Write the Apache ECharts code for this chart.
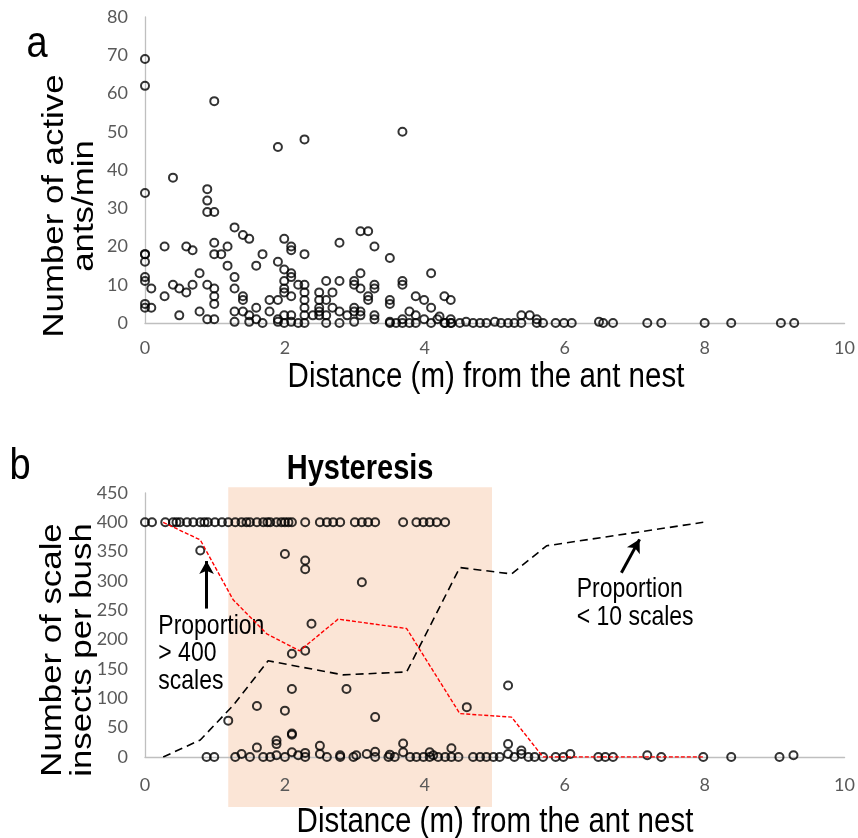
<!DOCTYPE html>
<html><head>
<meta charset="utf-8">
<title>Ants and scale insects</title>
<script src="https://cdn.jsdelivr.net/npm/echarts@6/dist/echarts.min.js"></script>
</head>
<body style="margin:0;background:#fff;">
<div id="main" style="width:858px;height:838px;"></div>
<script>
// panel a: active ants per minute vs distance
var antX = [0,0,0.99,3.68,2.28,1.90,0.40,0,0.89,0.89,0.89,0.99,1.28,1.40,1.49,1.99,0.99,3.08,3.19,2.78,3.28,
  0,0,0.28,0.59,0.68,1.18,0.99,1.09,1.68,2.09,2.09,2.28,3.50,0,1.18,1.59,1.90,1.99,2.09,2.09,0.78,3.08,4.09,
  0,0,1.28,1.99,2.59,2.78,2.99,3.68,0.09,0.40,0.49,0.59,0.68,0.89,0.99,1.28,1.99,1.99,2.19,2.28,2.28,2.49,2.68,
  2.99,3.08,3.28,3.28,3.68,0.28,0.99,0.99,1.40,1.40,1.78,1.90,2.09,2.28,2.49,2.59,3.19,3.19,3.50,3.50,3.87,3.99,
  4.28,4.37,0,0,0.09,0.78,0.49,0.89,0.99,1.28,1.28,1.40,1.49,1.49,1.59,1.59,1.68,1.78,1.90,1.90,1.99,1.99,2.09,
  2.09,2.19,2.28,2.28,2.28,2.40,2.49,2.49,2.49,2.59,2.59,2.68,2.78,2.78,2.89,2.99,2.99,2.99,3.08,3.08,3.28,3.28,
  3.50,3.50,3.59,3.68,3.68,3.78,3.78,3.87,3.87,3.99,4.09,4.09,4.18,4.28,4.37,4.37,4.21,4.29,4.38,4.50,4.59,4.69,
  4.79,4.88,5.00,5.09,5.19,5.28,5.38,5.38,5.50,5.60,5.60,5.69,5.87,5.99,6.10,6.49,6.55,6.69,7.18,7.38,8.00,8.38,
  9.09,9.28];
var antY = [69,62,58,50,48,46,38,34,35,32,29,29,25,23,22,22,21,24,24,21,20,
  18,18,20,20,19,20,18,18,18,20,19,18,17,16,15,15,16,14,13,12,13,13,13,
  12,11,12,11,11,11,11,11,9,10,9,8,10,10,9,9,9,8,10,10,8,8,8,
  10,9,10,9,10,7,7,5,7,6,6,6,7,6,6,6,7,6,6,5,7,6,
  7,6,5,4,4,3,2,1,1,3,0.3,3,2,0.3,4,1,0,3,1,0.3,2,0,2,
  0.3,0,4,2,0,2,4,3,2,2,0,4,3,0,2,4,3,0.3,3,2,2,1,
  0.3,0,0,1,0,3,0,2,0,1,4,0,1,0,1,0,1.7,0,0,0,0.3,0,
  0,0,0.3,0,0,0,2,0,2,1,0,0,0,0,0,0.3,0,0,0,0,0,0,
  0,0];

// panel b: scale insects per bush vs distance
var scaleX = [0,0.1,0.29,0.40,0.45,0.50,0.60,0.69,0.79,0.85,0.90,1.0,1.1,1.19,1.29,1.38,1.45,1.5,1.6,1.69,1.75,1.79,
  1.88,1.95,2.0,2.05,2.1,2.29,2.5,2.6,2.69,2.79,3.0,3.1,3.19,3.29,3.69,3.88,3.98,4.07,4.17,4.29,
  0.79,2.0,2.29,2.29,3.1,2.38,2.1,2.29,2.88,2.1,1.6,2.0,1.19,3.29,2.1,2.1,1.88,1.88,1.6,2.5,3.69,4.38,4.6,5.19,5.19,
  5.38,6.08,7.18,9.27,
  0.88,0.99,1.29,1.38,1.5,1.69,1.79,1.88,2.0,2.1,2.19,2.29,2.29,2.5,2.6,2.79,2.79,2.98,3.02,3.17,3.29,3.29,3.48,3.5,
  3.57,3.69,3.79,3.88,3.98,4.07,4.07,4.12,4.19,4.29,4.38,4.48,4.69,4.79,4.88,4.98,5.07,5.19,5.28,5.38,5.48,5.57,5.69,
  5.87,5.98,6.48,6.58,6.69,7.38,7.98,8.38,9.07];
var scaleY = [400,400,400,400,400,400,400,400,400,400,400,400,400,400,400,400,400,400,400,400,400,400,
  400,400,400,400,400,400,400,400,400,400,400,400,400,400,400,400,400,400,400,400,
  352,346,335,320,298,227,176,181,116,116,87,79,62,68,40,38,28,22,16,19,23,15,85,122,22,
  11,5,3,3,
  0,0,0,5,0,0,0,3,0,8,3,7,0,5,0,3,0,0,3,5,9,0,0,4,
  0,8,0,0,0,8,0,3,0,0,0,0,0,0,0,0,0,5,0,5,0,0,0,
  0,0,0,0,0,0,0,0,0];
var over400X = [0.26,0.79,1.26,1.74,2.21,2.76,3.74,4.5,5.24,5.69,7.98];
var over400Y = [400,370,268,210,181,235,219,74,68,0,0];
var under10X = [0.26,0.79,1.26,1.76,2.83,3.74,4.5,5.24,5.74,7.98];
var under10Y = [0,29,88,164,140,145,323,312,360,400];
var hysteresisRange = [1.19, 4.96];
var arrowOver = [[0.88, 253], [0.88, 334]];
var arrowUnder = [[6.81, 314], [7.07, 371]];

function pairs(xs, ys) {
  var out = [];
  for (var i = 0; i < xs.length; i++) { out.push([xs[i], ys[i]]); }
  return out;
}

var tickLabel = {color: '#595959', fontFamily: 'Lato', fontSize: 18};
var axisLine = {lineStyle: {color: '#bfbfbf', width: 1.3}};
var ring = {color: 'rgba(0,0,0,0)', borderColor: '#000', borderWidth: 2};

var chart = echarts.init(document.getElementById('main'));
chart.setOption({
  animation: false,
  grid: [
    {left: 145, right: 13, top: 17, bottom: 515},
    {left: 145, right: 13, top: 493, bottom: 81}
  ],
  xAxis: [
    {gridIndex: 0, type: 'value', min: 0, max: 10, interval: 2, splitLine: {show: false},
      axisTick: {show: false}, axisLine: axisLine, axisLabel: Object.assign({margin: 16}, tickLabel)},
    {gridIndex: 1, type: 'value', min: 0, max: 10, interval: 2, splitLine: {show: false},
      axisTick: {show: false}, axisLine: axisLine, axisLabel: Object.assign({margin: 19}, tickLabel)}
  ],
  yAxis: [
    {gridIndex: 0, type: 'value', min: 0, max: 80, interval: 10, splitLine: {show: false},
      axisTick: {show: false}, axisLine: Object.assign({show: true}, axisLine), axisLabel: Object.assign({margin: 17}, tickLabel)},
    {gridIndex: 1, type: 'value', min: 0, max: 450, interval: 50, splitLine: {show: false},
      axisTick: {show: false}, axisLine: Object.assign({show: true}, axisLine), axisLabel: Object.assign({margin: 17}, tickLabel)}
  ],
  series: [
    {type: 'scatter', xAxisIndex: 0, yAxisIndex: 0, symbolSize: 8, itemStyle: ring, data: pairs(antX, antY)},
    {type: 'line', xAxisIndex: 1, yAxisIndex: 1, symbol: 'none', z: 3,
      lineStyle: {color: '#ff0000', width: 1.4, type: [4, 2]}, data: pairs(over400X, over400Y)},
    {type: 'line', xAxisIndex: 1, yAxisIndex: 1, symbol: 'none', z: 3,
      lineStyle: {color: '#000', width: 1.6, type: [8, 5]}, data: pairs(under10X, under10Y)},
    {type: 'scatter', xAxisIndex: 1, yAxisIndex: 1, symbolSize: 8, itemStyle: ring, data: pairs(scaleX, scaleY),
      markLine: {silent: true, symbol: ['none', 'arrow'], symbolSize: [11, 13], label: {show: false},
        lineStyle: {color: '#000', width: 3, type: 'solid'},
        data: [
          [{coord: arrowOver[0]}, {coord: arrowOver[1]}],
          [{coord: arrowUnder[0]}, {coord: arrowUnder[1]}]
        ]}}
  ]
});

// shaded band, titles and notes placed from the axes
var bandTop = chart.convertToPixel({gridIndex: 1}, [hysteresisRange[0], 460]);
var bandBot = chart.convertToPixel({gridIndex: 1}, [hysteresisRange[1], 0]);
var note1 = chart.convertToPixel({gridIndex: 1}, [0.19, 245]);
var note2 = chart.convertToPixel({gridIndex: 1}, [6.17, 308]);
var stretch = 1.18;
var titleFont = {fontFamily: 'Liberation Sans, Arial', fontSize: 29.5, fill: '#000'};

function label(x, y, text, style, rot) {
  return {type: 'text', x: x, y: y, rotation: rot || 0,
    scaleX: rot ? stretch : 1, scaleY: rot ? 1 : stretch,
    style: Object.assign({text: text, align: 'center', verticalAlign: 'middle'}, style)};
}

chart.setOption({
  graphic: [
    {type: 'rect', z: -10, silent: true,
      shape: {x: bandTop[0], y: bandTop[1], width: bandBot[0] - bandTop[0], height: bandBot[1] + 50 - bandTop[1]},
      style: {fill: '#fbe5d6'}},
    label(37, 45, 'a', {fontFamily: 'Liberation Sans, Arial', fontSize: 38}),
    label(20, 467, 'b', {fontFamily: 'Liberation Sans, Arial', fontSize: 38}),
    label(70, 206, 'Number of active\nants/min', Object.assign({lineHeight: 30}, titleFont), Math.PI / 2),
    label(68, 650, 'Number of scale\ninsects per bush', Object.assign({lineHeight: 30}, titleFont), Math.PI / 2),
    label(486, 377, 'Distance (m) from the ant nest', titleFont),
    label(495, 822, 'Distance (m) from the ant nest', titleFont),
    label((bandTop[0] + bandBot[0]) / 2, bandTop[1] - 18, 'Hysteresis',
      {fontFamily: 'Liberation Sans, Arial', fontSize: 29, fontWeight: 'bold'}),
    {type: 'text', x: note1[0], y: note1[1], scaleY: stretch,
      style: {text: 'Proportion\n> 400\nscales', fontFamily: 'Liberation Sans, Arial', fontSize: 23, lineHeight: 23,
        align: 'left', verticalAlign: 'top', fill: '#000'}},
    {type: 'text', x: note2[0], y: note2[1], scaleY: stretch,
      style: {text: 'Proportion\n< 10 scales', fontFamily: 'Liberation Sans, Arial', fontSize: 23, lineHeight: 23,
        align: 'left', verticalAlign: 'top', fill: '#000'}}
  ]
});
</script>
</body>
</html>
